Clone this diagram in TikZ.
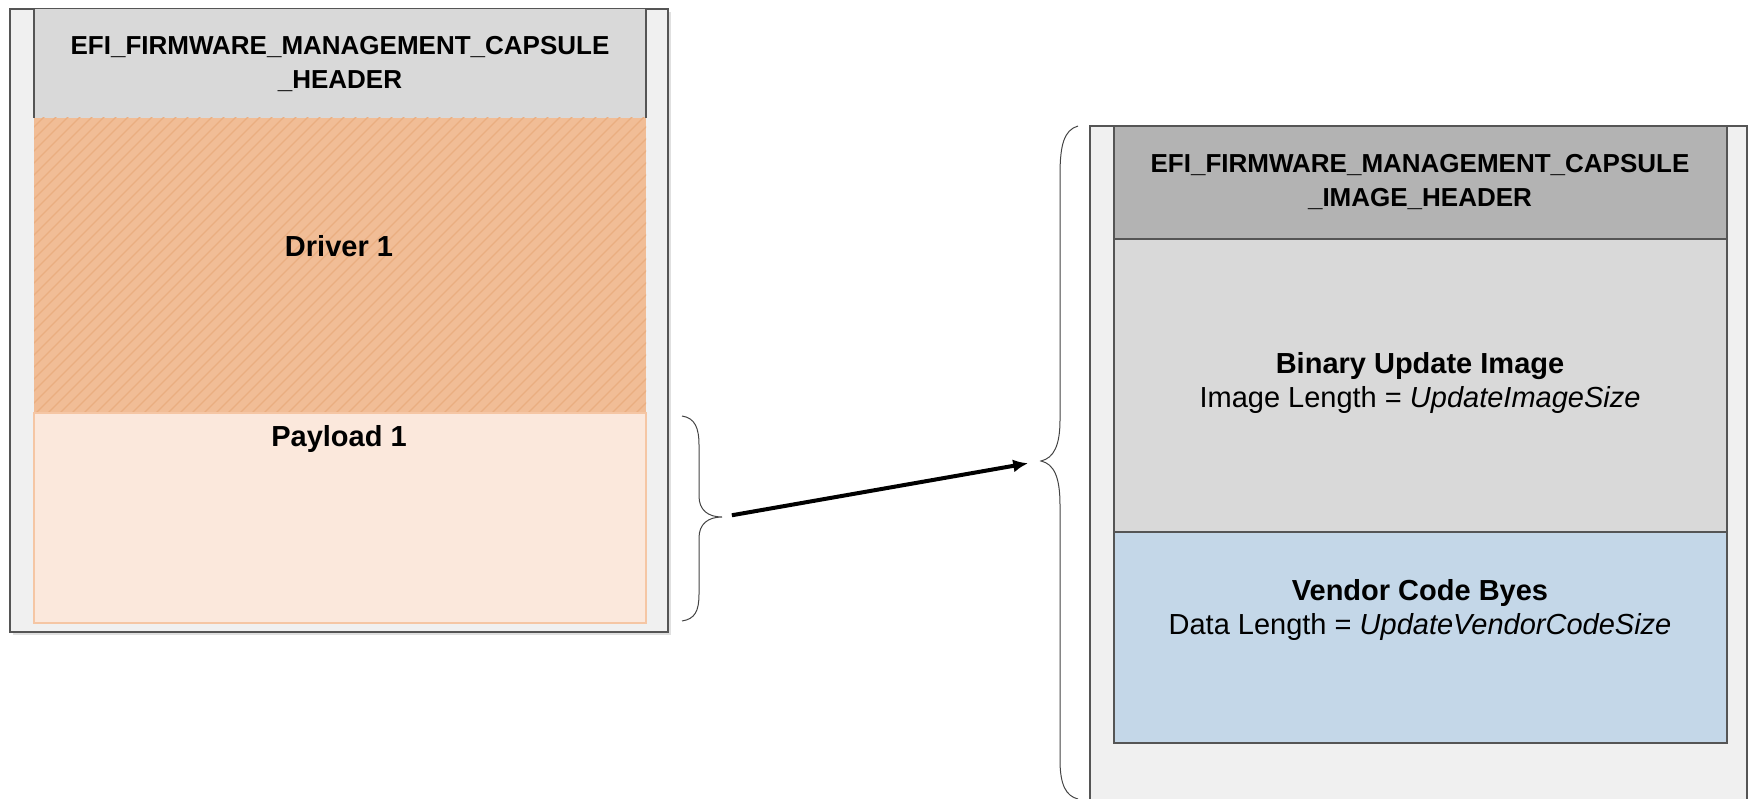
\documentclass[tikz,border=0pt]{standalone}
\usepackage{fontspec}
\setmainfont{Liberation Sans}
\usetikzlibrary{calc,arrows.meta}
\definecolor{outerfill}{HTML}{F0F0F0}
\definecolor{boxline}{HTML}{555555}
\definecolor{hdrlight}{HTML}{D9D9D9}
\definecolor{hdrdark}{HTML}{B3B3B3}
\definecolor{drvfill}{HTML}{F1BD96}
\definecolor{drvhatch}{HTML}{EAAE80}
\definecolor{payfill}{HTML}{FBE8DC}
\definecolor{payline}{HTML}{F5C6A4}
\definecolor{vendfill}{HTML}{C4D7E8}
\definecolor{bracecol}{HTML}{444444}
\begin{document}
\begin{tikzpicture}[x=1pt,y=-1pt,
  outerbox/.style={draw=boxline,fill=outerfill,line width=1.2pt},
  innerbox/.style={draw=boxline,line width=1.2pt},
  hdrtext/.style={font=\fontsize{26}{33.5}\selectfont\bfseries,align=center,inner sep=0pt},
  bodytext/.style={font=\fontsize{29}{34}\selectfont,align=center,inner sep=0pt},
  bracestyle/.style={draw=bracecol,line width=1pt},
]
\useasboundingbox (0,0) rectangle (1752,799);
% ---------- left capsule ----------
\path[fill=black!12] (13,12) rectangle (671,635);
\path[outerbox] (10,9) rectangle (668,632);
\path[fill=hdrlight] (34,9) rectangle (646,118);
\draw[boxline,line width=1.2pt] (34,9) -- (34,118) (646,9) -- (646,118);
\path[fill=drvfill] (34,118) rectangle (646,413);
\begin{scope}
  \clip (34,118) rectangle (646,413);
  \foreach \i in {-300,-288,...,660} {
    \draw[drvhatch,line width=1.1pt] (\i,413) -- ++(300,-300);
  }
\end{scope}
\path[fill=payfill,draw=payline,line width=1.2pt] (34,413) rectangle (646,623);
\node[hdrtext] (lhdr) at (340,64) {EFI\_FIRMWARE\_MANAGEMENT\_CAPSULE\\\_HEADER};
\node[bodytext,font=\fontsize{29}{34}\selectfont\bfseries] (drv) at (339,246) {Driver 1};
\node[bodytext,font=\fontsize{29}{34}\selectfont\bfseries] (pay) at (339,439) {Payload 1};
% left brace
\draw[bracestyle] (682,416) .. controls (695,418) and (699,428) .. (699,445)
  -- (699,496) .. controls (699,510) and (708,517) .. (722,517)
  .. controls (708,517) and (699,524) .. (699,538)
  -- (699,594) .. controls (699,611) and (695,619) .. (682,621);
\coordinate (ltip) at (722,517);
% ---------- right image ----------
\path[outerbox] (1090,126) rectangle (1747,802);
\path[innerbox,fill=hdrdark] (1114,126) rectangle (1727,239);
\path[innerbox,fill=hdrlight] (1114,239) rectangle (1727,532);
\path[innerbox,fill=vendfill] (1114,532) rectangle (1727,743);
\node[hdrtext] (rhdr) at (1420,182) {EFI\_FIRMWARE\_MANAGEMENT\_CAPSULE\\\_IMAGE\_HEADER};
\node[bodytext] (bin) at (1420,383) {\textbf{Binary Update Image}\\Image Length = \textit{UpdateImageSize}};
\node[bodytext] (vend) at (1420,610) {\textbf{Vendor Code Byes}\\Data Length = \textit{UpdateVendorCodeSize}};
% right brace
\draw[bracestyle] (1078,126) .. controls (1064,130) and (1060,145) .. (1060,175)
  -- (1060,420) .. controls (1060,445) and (1054,458) .. (1041,461)
  .. controls (1054,464) and (1060,477) .. (1060,505)
  -- (1060,760) .. controls (1060,785) and (1066,796) .. (1078,799);
\coordinate (rtip) at (1041,461);
% ---------- arrow ----------
\draw[line width=4pt,-{Latex[length=15pt,width=13pt]},shorten <=10pt,shorten >=13pt] (ltip) -- (rtip);
\end{tikzpicture}
\end{document}
